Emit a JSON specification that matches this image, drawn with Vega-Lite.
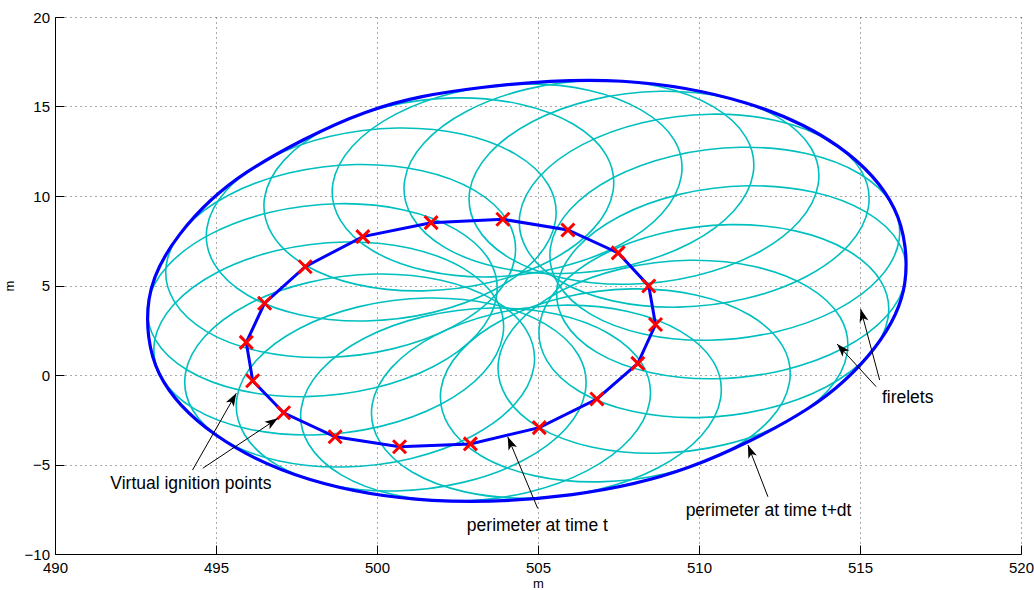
{
  "$schema": "https://vega.github.io/schema/vega-lite/v6.json",
  "width": 966,
  "height": 537,
  "autosize": {"type": "none"},
  "padding": {"left": 55, "top": 17, "right": 13, "bottom": 36},
  "config": {"view": {"stroke": null}, "font": "Liberation Sans"},
  "datasets": {
    "firelets": [
      {"f":1,"k":0,"x":510.44,"y":14.99},{"f":1,"k":1,"x":508.80,"y":16.10},{"f":1,"k":2,"x":506.77,"y":16.45},{"f":1,"k":3,"x":504.66,"y":15.97},{"f":1,"k":4,"x":502.80,"y":14.75},{"f":1,"k":5,"x":501.46,"y":12.96},{"f":1,"k":6,"x":500.86,"y":10.89},{"f":1,"k":7,"x":501.09,"y":8.84},{"f":1,"k":8,"x":502.10,"y":7.13},{"f":1,"k":9,"x":503.74,"y":6.02},{"f":1,"k":10,"x":505.78,"y":5.67},{"f":1,"k":11,"x":507.88,"y":6.15},{"f":1,"k":12,"x":509.74,"y":7.37},{"f":1,"k":13,"x":511.08,"y":9.16},{"f":1,"k":14,"x":511.68,"y":11.23},{"f":1,"k":15,"x":511.46,"y":13.28},
      {"f":2,"k":0,"x":512.46,"y":14.39},{"f":2,"k":1,"x":510.82,"y":15.50},{"f":2,"k":2,"x":508.79,"y":15.85},{"f":2,"k":3,"x":506.68,"y":15.37},{"f":2,"k":4,"x":504.82,"y":14.15},{"f":2,"k":5,"x":503.48,"y":12.36},{"f":2,"k":6,"x":502.88,"y":10.29},{"f":2,"k":7,"x":503.11,"y":8.24},{"f":2,"k":8,"x":504.12,"y":6.53},{"f":2,"k":9,"x":505.76,"y":5.42},{"f":2,"k":10,"x":507.80,"y":5.07},{"f":2,"k":11,"x":509.90,"y":5.55},{"f":2,"k":12,"x":511.76,"y":6.77},{"f":2,"k":13,"x":513.10,"y":8.56},{"f":2,"k":14,"x":513.70,"y":10.63},{"f":2,"k":15,"x":513.48,"y":12.68},
      {"f":3,"k":0,"x":514.02,"y":13.11},{"f":3,"k":1,"x":512.38,"y":14.22},{"f":3,"k":2,"x":510.35,"y":14.57},{"f":3,"k":3,"x":508.24,"y":14.09},{"f":3,"k":4,"x":506.38,"y":12.87},{"f":3,"k":5,"x":505.04,"y":11.08},{"f":3,"k":6,"x":504.44,"y":9.01},{"f":3,"k":7,"x":504.67,"y":6.96},{"f":3,"k":8,"x":505.68,"y":5.25},{"f":3,"k":9,"x":507.32,"y":4.14},{"f":3,"k":10,"x":509.36,"y":3.79},{"f":3,"k":11,"x":511.46,"y":4.27},{"f":3,"k":12,"x":513.32,"y":5.49},{"f":3,"k":13,"x":514.66,"y":7.28},{"f":3,"k":14,"x":515.26,"y":9.35},{"f":3,"k":15,"x":515.04,"y":11.40},
      {"f":4,"k":0,"x":514.97,"y":11.26},{"f":4,"k":1,"x":513.33,"y":12.37},{"f":4,"k":2,"x":511.30,"y":12.72},{"f":4,"k":3,"x":509.19,"y":12.24},{"f":4,"k":4,"x":507.33,"y":11.02},{"f":4,"k":5,"x":505.99,"y":9.23},{"f":4,"k":6,"x":505.39,"y":7.16},{"f":4,"k":7,"x":505.62,"y":5.11},{"f":4,"k":8,"x":506.63,"y":3.40},{"f":4,"k":9,"x":508.27,"y":2.29},{"f":4,"k":10,"x":510.31,"y":1.94},{"f":4,"k":11,"x":512.41,"y":2.42},{"f":4,"k":12,"x":514.27,"y":3.64},{"f":4,"k":13,"x":515.61,"y":5.43},{"f":4,"k":14,"x":516.21,"y":7.50},{"f":4,"k":15,"x":515.99,"y":9.55},
      {"f":5,"k":0,"x":515.18,"y":9.11},{"f":5,"k":1,"x":513.54,"y":10.22},{"f":5,"k":2,"x":511.51,"y":10.57},{"f":5,"k":3,"x":509.40,"y":10.09},{"f":5,"k":4,"x":507.54,"y":8.87},{"f":5,"k":5,"x":506.20,"y":7.08},{"f":5,"k":6,"x":505.60,"y":5.01},{"f":5,"k":7,"x":505.83,"y":2.96},{"f":5,"k":8,"x":506.84,"y":1.25},{"f":5,"k":9,"x":508.48,"y":0.14},{"f":5,"k":10,"x":510.52,"y":-0.21},{"f":5,"k":11,"x":512.62,"y":0.27},{"f":5,"k":12,"x":514.48,"y":1.49},{"f":5,"k":13,"x":515.82,"y":3.28},{"f":5,"k":14,"x":516.42,"y":5.35},{"f":5,"k":15,"x":516.20,"y":7.40},
      {"f":6,"k":0,"x":514.63,"y":6.94},{"f":6,"k":1,"x":512.99,"y":8.05},{"f":6,"k":2,"x":510.96,"y":8.40},{"f":6,"k":3,"x":508.85,"y":7.92},{"f":6,"k":4,"x":506.99,"y":6.70},{"f":6,"k":5,"x":505.65,"y":4.91},{"f":6,"k":6,"x":505.05,"y":2.84},{"f":6,"k":7,"x":505.28,"y":0.79},{"f":6,"k":8,"x":506.29,"y":-0.92},{"f":6,"k":9,"x":507.93,"y":-2.03},{"f":6,"k":10,"x":509.97,"y":-2.38},{"f":6,"k":11,"x":512.07,"y":-1.90},{"f":6,"k":12,"x":513.93,"y":-0.68},{"f":6,"k":13,"x":515.27,"y":1.11},{"f":6,"k":14,"x":515.87,"y":3.18},{"f":6,"k":15,"x":515.65,"y":5.23},
      {"f":7,"k":0,"x":513.36,"y":4.95},{"f":7,"k":1,"x":511.72,"y":6.06},{"f":7,"k":2,"x":509.69,"y":6.41},{"f":7,"k":3,"x":507.58,"y":5.93},{"f":7,"k":4,"x":505.72,"y":4.71},{"f":7,"k":5,"x":504.38,"y":2.92},{"f":7,"k":6,"x":503.78,"y":0.85},{"f":7,"k":7,"x":504.01,"y":-1.20},{"f":7,"k":8,"x":505.02,"y":-2.91},{"f":7,"k":9,"x":506.66,"y":-4.02},{"f":7,"k":10,"x":508.70,"y":-4.37},{"f":7,"k":11,"x":510.80,"y":-3.89},{"f":7,"k":12,"x":512.66,"y":-2.67},{"f":7,"k":13,"x":514.00,"y":-0.88},{"f":7,"k":14,"x":514.60,"y":1.19},{"f":7,"k":15,"x":514.38,"y":3.24},
      {"f":8,"k":0,"x":511.57,"y":3.35},{"f":8,"k":1,"x":509.93,"y":4.46},{"f":8,"k":2,"x":507.90,"y":4.81},{"f":8,"k":3,"x":505.79,"y":4.33},{"f":8,"k":4,"x":503.93,"y":3.11},{"f":8,"k":5,"x":502.59,"y":1.32},{"f":8,"k":6,"x":501.99,"y":-0.75},{"f":8,"k":7,"x":502.22,"y":-2.80},{"f":8,"k":8,"x":503.23,"y":-4.51},{"f":8,"k":9,"x":504.87,"y":-5.62},{"f":8,"k":10,"x":506.91,"y":-5.97},{"f":8,"k":11,"x":509.01,"y":-5.49},{"f":8,"k":12,"x":510.87,"y":-4.27},{"f":8,"k":13,"x":512.21,"y":-2.48},{"f":8,"k":14,"x":512.81,"y":-0.41},{"f":8,"k":15,"x":512.59,"y":1.64},
      {"f":9,"k":0,"x":509.43,"y":2.44},{"f":9,"k":1,"x":507.79,"y":3.55},{"f":9,"k":2,"x":505.76,"y":3.90},{"f":9,"k":3,"x":503.65,"y":3.42},{"f":9,"k":4,"x":501.79,"y":2.20},{"f":9,"k":5,"x":500.45,"y":0.41},{"f":9,"k":6,"x":499.85,"y":-1.66},{"f":9,"k":7,"x":500.08,"y":-3.71},{"f":9,"k":8,"x":501.09,"y":-5.42},{"f":9,"k":9,"x":502.73,"y":-6.53},{"f":9,"k":10,"x":504.77,"y":-6.88},{"f":9,"k":11,"x":506.87,"y":-6.40},{"f":9,"k":12,"x":508.73,"y":-5.18},{"f":9,"k":13,"x":510.07,"y":-3.39},{"f":9,"k":14,"x":510.67,"y":-1.32},{"f":9,"k":15,"x":510.45,"y":0.73},
      {"f":10,"k":0,"x":507.23,"y":2.28},{"f":10,"k":1,"x":505.59,"y":3.39},{"f":10,"k":2,"x":503.56,"y":3.74},{"f":10,"k":3,"x":501.45,"y":3.26},{"f":10,"k":4,"x":499.59,"y":2.04},{"f":10,"k":5,"x":498.25,"y":0.25},{"f":10,"k":6,"x":497.65,"y":-1.82},{"f":10,"k":7,"x":497.88,"y":-3.87},{"f":10,"k":8,"x":498.89,"y":-5.58},{"f":10,"k":9,"x":500.53,"y":-6.69},{"f":10,"k":10,"x":502.57,"y":-7.04},{"f":10,"k":11,"x":504.67,"y":-6.56},{"f":10,"k":12,"x":506.53,"y":-5.34},{"f":10,"k":13,"x":507.87,"y":-3.55},{"f":10,"k":14,"x":508.47,"y":-1.48},{"f":10,"k":15,"x":508.25,"y":0.57},
      {"f":11,"k":0,"x":505.23,"y":2.84},{"f":11,"k":1,"x":503.59,"y":3.95},{"f":11,"k":2,"x":501.56,"y":4.30},{"f":11,"k":3,"x":499.45,"y":3.82},{"f":11,"k":4,"x":497.59,"y":2.60},{"f":11,"k":5,"x":496.25,"y":0.81},{"f":11,"k":6,"x":495.65,"y":-1.26},{"f":11,"k":7,"x":495.88,"y":-3.31},{"f":11,"k":8,"x":496.89,"y":-5.02},{"f":11,"k":9,"x":498.53,"y":-6.13},{"f":11,"k":10,"x":500.57,"y":-6.48},{"f":11,"k":11,"x":502.67,"y":-6.00},{"f":11,"k":12,"x":504.53,"y":-4.78},{"f":11,"k":13,"x":505.87,"y":-2.99},{"f":11,"k":14,"x":506.47,"y":-0.92},{"f":11,"k":15,"x":506.25,"y":1.13},
      {"f":12,"k":0,"x":503.63,"y":4.18},{"f":12,"k":1,"x":501.99,"y":5.29},{"f":12,"k":2,"x":499.96,"y":5.64},{"f":12,"k":3,"x":497.85,"y":5.16},{"f":12,"k":4,"x":495.99,"y":3.94},{"f":12,"k":5,"x":494.65,"y":2.15},{"f":12,"k":6,"x":494.05,"y":0.08},{"f":12,"k":7,"x":494.28,"y":-1.97},{"f":12,"k":8,"x":495.29,"y":-3.68},{"f":12,"k":9,"x":496.93,"y":-4.79},{"f":12,"k":10,"x":498.97,"y":-5.14},{"f":12,"k":11,"x":501.07,"y":-4.66},{"f":12,"k":12,"x":502.93,"y":-3.44},{"f":12,"k":13,"x":504.27,"y":-1.65},{"f":12,"k":14,"x":504.87,"y":0.42},{"f":12,"k":15,"x":504.65,"y":2.47},
      {"f":13,"k":0,"x":502.67,"y":5.97},{"f":13,"k":1,"x":501.03,"y":7.08},{"f":13,"k":2,"x":499.00,"y":7.43},{"f":13,"k":3,"x":496.89,"y":6.95},{"f":13,"k":4,"x":495.03,"y":5.73},{"f":13,"k":5,"x":493.69,"y":3.94},{"f":13,"k":6,"x":493.09,"y":1.87},{"f":13,"k":7,"x":493.32,"y":-0.18},{"f":13,"k":8,"x":494.33,"y":-1.89},{"f":13,"k":9,"x":495.97,"y":-3.00},{"f":13,"k":10,"x":498.01,"y":-3.35},{"f":13,"k":11,"x":500.11,"y":-2.87},{"f":13,"k":12,"x":501.97,"y":-1.65},{"f":13,"k":13,"x":503.31,"y":0.14},{"f":13,"k":14,"x":503.91,"y":2.21},{"f":13,"k":15,"x":503.69,"y":4.26},
      {"f":14,"k":0,"x":502.47,"y":8.11},{"f":14,"k":1,"x":500.83,"y":9.22},{"f":14,"k":2,"x":498.80,"y":9.57},{"f":14,"k":3,"x":496.69,"y":9.09},{"f":14,"k":4,"x":494.83,"y":7.87},{"f":14,"k":5,"x":493.49,"y":6.08},{"f":14,"k":6,"x":492.89,"y":4.01},{"f":14,"k":7,"x":493.12,"y":1.96},{"f":14,"k":8,"x":494.13,"y":0.25},{"f":14,"k":9,"x":495.77,"y":-0.86},{"f":14,"k":10,"x":497.81,"y":-1.21},{"f":14,"k":11,"x":499.91,"y":-0.73},{"f":14,"k":12,"x":501.77,"y":0.49},{"f":14,"k":13,"x":503.11,"y":2.28},{"f":14,"k":14,"x":503.71,"y":4.35},{"f":14,"k":15,"x":503.49,"y":6.40},
      {"f":15,"k":0,"x":503.04,"y":10.30},{"f":15,"k":1,"x":501.40,"y":11.41},{"f":15,"k":2,"x":499.37,"y":11.76},{"f":15,"k":3,"x":497.26,"y":11.28},{"f":15,"k":4,"x":495.40,"y":10.06},{"f":15,"k":5,"x":494.06,"y":8.27},{"f":15,"k":6,"x":493.46,"y":6.20},{"f":15,"k":7,"x":493.69,"y":4.15},{"f":15,"k":8,"x":494.70,"y":2.44},{"f":15,"k":9,"x":496.34,"y":1.33},{"f":15,"k":10,"x":498.38,"y":0.98},{"f":15,"k":11,"x":500.48,"y":1.46},{"f":15,"k":12,"x":502.34,"y":2.68},{"f":15,"k":13,"x":503.68,"y":4.47},{"f":15,"k":14,"x":504.28,"y":6.54},{"f":15,"k":15,"x":504.06,"y":8.59},
      {"f":16,"k":0,"x":504.30,"y":12.34},{"f":16,"k":1,"x":502.66,"y":13.45},{"f":16,"k":2,"x":500.63,"y":13.80},{"f":16,"k":3,"x":498.52,"y":13.32},{"f":16,"k":4,"x":496.66,"y":12.10},{"f":16,"k":5,"x":495.32,"y":10.31},{"f":16,"k":6,"x":494.72,"y":8.24},{"f":16,"k":7,"x":494.95,"y":6.19},{"f":16,"k":8,"x":495.96,"y":4.48},{"f":16,"k":9,"x":497.60,"y":3.37},{"f":16,"k":10,"x":499.64,"y":3.02},{"f":16,"k":11,"x":501.74,"y":3.50},{"f":16,"k":12,"x":503.60,"y":4.72},{"f":16,"k":13,"x":504.94,"y":6.51},{"f":16,"k":14,"x":505.54,"y":8.58},{"f":16,"k":15,"x":505.32,"y":10.63},
      {"f":17,"k":0,"x":506.09,"y":14.02},{"f":17,"k":1,"x":504.45,"y":15.13},{"f":17,"k":2,"x":502.42,"y":15.48},{"f":17,"k":3,"x":500.31,"y":15.00},{"f":17,"k":4,"x":498.45,"y":13.78},{"f":17,"k":5,"x":497.11,"y":11.99},{"f":17,"k":6,"x":496.51,"y":9.92},{"f":17,"k":7,"x":496.74,"y":7.87},{"f":17,"k":8,"x":497.75,"y":6.16},{"f":17,"k":9,"x":499.39,"y":5.05},{"f":17,"k":10,"x":501.43,"y":4.70},{"f":17,"k":11,"x":503.53,"y":5.18},{"f":17,"k":12,"x":505.39,"y":6.40},{"f":17,"k":13,"x":506.73,"y":8.19},{"f":17,"k":14,"x":507.33,"y":10.26},{"f":17,"k":15,"x":507.11,"y":12.31},
      {"f":18,"k":0,"x":508.21,"y":14.80},{"f":18,"k":1,"x":506.57,"y":15.91},{"f":18,"k":2,"x":504.54,"y":16.26},{"f":18,"k":3,"x":502.43,"y":15.78},{"f":18,"k":4,"x":500.57,"y":14.56},{"f":18,"k":5,"x":499.23,"y":12.77},{"f":18,"k":6,"x":498.63,"y":10.70},{"f":18,"k":7,"x":498.86,"y":8.65},{"f":18,"k":8,"x":499.87,"y":6.94},{"f":18,"k":9,"x":501.51,"y":5.83},{"f":18,"k":10,"x":503.55,"y":5.48},{"f":18,"k":11,"x":505.65,"y":6.01},{"f":18,"k":12,"x":507.51,"y":7.23},{"f":18,"k":13,"x":508.85,"y":9.02},{"f":18,"k":14,"x":509.45,"y":11.09},{"f":18,"k":15,"x":509.23,"y":13.14}
    ],
    "outer": [
      {"k":0,"x":516.39,"y":5.14},{"k":1,"x":516.06,"y":9.30},{"k":2,"x":514.32,"y":12.77},{"k":3,"x":511.43,"y":15.21},{"k":4,"x":507.62,"y":16.41},{"k":5,"x":503.25,"y":16.06},{"k":6,"x":499.64,"y":14.67},{"k":7,"x":495.96,"y":11.33},{"k":8,"x":493.88,"y":7.87},
      {"k":9,"x":492.92,"y":4.22},{"k":10,"x":493.24,"y":0.07},{"k":11,"x":494.99,"y":-3.34},{"k":12,"x":497.92,"y":-5.84},{"k":13,"x":501.71,"y":-7.00},{"k":14,"x":506.06,"y":-6.68},{"k":15,"x":509.68,"y":-5.16},{"k":16,"x":513.36,"y":-1.90},{"k":17,"x":515.45,"y":1.51}
    ],
    "ignition": [
      {"i":1,"x":503.91,"y":8.70},{"i":2,"x":505.93,"y":8.10},{"i":3,"x":507.49,"y":6.82},{"i":4,"x":508.44,"y":4.97},{"i":5,"x":508.65,"y":2.82},{"i":6,"x":508.10,"y":0.65},{"i":7,"x":506.83,"y":-1.34},{"i":8,"x":505.04,"y":-2.94},{"i":9,"x":502.90,"y":-3.85},{"i":10,"x":500.70,"y":-4.01},{"i":11,"x":498.70,"y":-3.45},{"i":12,"x":497.10,"y":-2.11},{"i":13,"x":496.14,"y":-0.32},{"i":14,"x":495.94,"y":1.82},{"i":15,"x":496.51,"y":4.01},{"i":16,"x":497.77,"y":6.05},{"i":17,"x":499.56,"y":7.73},{"i":18,"x":501.68,"y":8.51}
    ],
    "arrows": [
      {"x":494.27,"y":-5.31,"x2":495.63,"y2":-1.02,"angle":29.7},
      {"x":494.59,"y":-5.21,"x2":496.92,"y2":-2.42,"angle":56.3},
      {"x":504.99,"y":-7.45,"x2":504.06,"y2":-3.45,"angle":-22.7},
      {"x":512.14,"y":-6.80,"x2":511.52,"y2":-3.91,"angle":-21.1},
      {"x":515.61,"y":-0.28,"x2":515.02,"y2":3.69,"angle":-15},
      {"x":515.50,"y":-0.65,"x2":514.29,"y2":1.73,"angle":-42.6}
    ],
    "labels": [
      {"text":"Virtual ignition points","x":494.22,"y":-6.39},
      {"text":"perimeter at time t","x":504.98,"y":-8.70},
      {"text":"perimeter at time t+dt","x":512.16,"y":-7.86},
      {"text":"firelets","x":516.48,"y":-1.56}
    ]
  },
  "layer": [
    {
      "data": {"name": "firelets"},
      "mark": {"type": "line", "interpolate": "cardinal-closed", "color": "#00BFBF", "strokeWidth": 1.6},
      "encoding": {
        "x": {"field": "x", "type": "quantitative", "title": "m", "scale": {"domain": [490, 520], "nice": false, "zero": false},
          "axis": {"values": [490, 495, 500, 505, 510, 515, 520], "title": "m", "format": "d", "grid": true, "gridDash": [1, 4], "gridColor": "#555", "gridWidth": 1, "domainColor": "#000", "tickColor": "#000", "tickSize": -9, "labelPadding": 15.5, "labelFontSize": 15, "labelColor": "#000", "labelFont": "Liberation Sans", "labelFlush": false, "labelOverlap": false, "titleFont": "Liberation Sans", "titleFontSize": 13, "titleFontWeight": "normal", "titleColor": "#000", "titleY": 29, "titleBaseline": "middle"}},
        "y": {"field": "y", "type": "quantitative", "title": "m", "scale": {"domain": [-10, 20], "nice": false, "zero": false},
          "axis": {"values": [-10, -5, 0, 5, 10, 15, 20], "title": "m", "format": "d", "grid": true, "gridDash": [1, 4], "gridColor": "#555", "gridWidth": 1, "domainColor": "#000", "tickColor": "#000", "tickSize": -9, "labelPadding": 14.5, "labelFontSize": 15, "labelColor": "#000", "labelFont": "Liberation Sans", "labelFlush": false, "labelOverlap": false, "titleFont": "Liberation Sans", "titleFontSize": 13, "titleFontWeight": "normal", "titleColor": "#000", "titleX": -46, "titleBaseline": "middle"}},
        "detail": {"field": "f", "type": "nominal"},
        "order": {"field": "k", "type": "quantitative"}
      }
    },
    {
      "data": {"name": "outer"},
      "mark": {"type": "line", "interpolate": "cardinal-closed", "color": "#0000FF", "strokeWidth": 3.2},
      "encoding": {
        "x": {"field": "x", "type": "quantitative", "title": "m"},
        "y": {"field": "y", "type": "quantitative", "title": "m"},
        "order": {"field": "k", "type": "quantitative"}
      }
    },
    {
      "data": {"name": "ignition"},
      "mark": {"type": "line", "interpolate": "linear-closed", "color": "#0000FF", "strokeWidth": 3},
      "encoding": {
        "x": {"field": "x", "type": "quantitative", "title": "m"},
        "y": {"field": "y", "type": "quantitative", "title": "m"},
        "order": {"field": "i", "type": "quantitative"}
      }
    },
    {
      "data": {"name": "ignition"},
      "mark": {"type": "point", "shape": "M-1,-1L1,1M1,-1L-1,1", "filled": false, "stroke": "#FF0000", "strokeWidth": 3, "size": 169, "opacity": 1},
      "encoding": {
        "x": {"field": "x", "type": "quantitative", "title": "m"},
        "y": {"field": "y", "type": "quantitative", "title": "m"}
      }
    },
    {
      "data": {"name": "arrows"},
      "mark": {"type": "rule", "color": "#000", "strokeWidth": 1},
      "encoding": {
        "x": {"field": "x", "type": "quantitative", "title": "m"},
        "y": {"field": "y", "type": "quantitative", "title": "m"},
        "x2": {"field": "x2"},
        "y2": {"field": "y2"}
      }
    },
    {
      "data": {"name": "arrows"},
      "mark": {"type": "point", "shape": "M0,0L0.7,2L0,1.5L-0.7,2Z", "filled": true, "color": "#000", "size": 169, "opacity": 1},
      "encoding": {
        "x": {"field": "x2", "type": "quantitative", "title": "m"},
        "y": {"field": "y2", "type": "quantitative", "title": "m"},
        "angle": {"field": "angle", "type": "quantitative", "scale": null}
      }
    },
    {
      "data": {"name": "labels"},
      "mark": {"type": "text", "font": "Liberation Sans", "fontSize": 17.5, "color": "#000", "align": "center", "baseline": "alphabetic"},
      "encoding": {
        "x": {"field": "x", "type": "quantitative", "title": "m"},
        "y": {"field": "y", "type": "quantitative", "title": "m"},
        "text": {"field": "text"}
      }
    }
  ]
}
